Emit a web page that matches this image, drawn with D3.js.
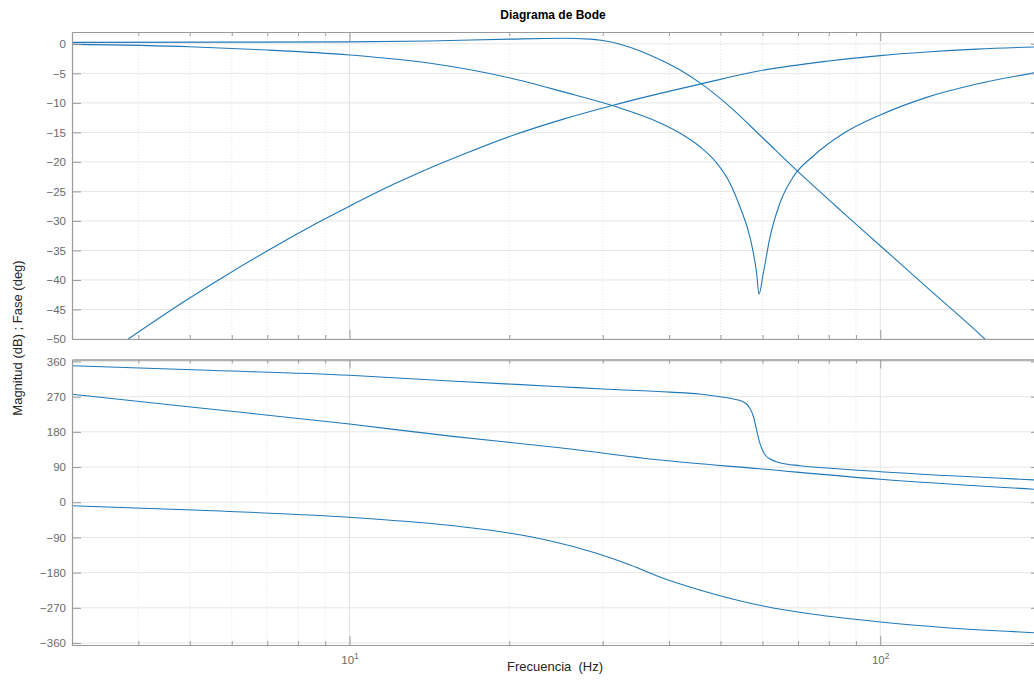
<!DOCTYPE html>
<html>
<head>
<meta charset="utf-8">
<script src="https://cdn.jsdelivr.net/npm/d3@7"></script>
<style>
  html, body { margin: 0; padding: 0; background: #fff; }
  svg { display: block; font-family: "Liberation Sans", Arial, Helvetica, sans-serif; }
</style>
</head>
<body>
<svg id="chart" width="1034" height="682"></svg>
<script>
// ---------- data ----------
const titleText = "Diagrama de Bode";
const xLabelText = "Frecuencia  (Hz)";
const yLabelText = "Magnitud (dB) ; Fase (deg)";

const magTicks = [-50, -45, -40, -35, -30, -25, -20, -15, -10, -5, 0];
const phaseTicks = [-360, -270, -180, -90, 0, 90, 180, 270, 360];
const majorFreqTicks = [10, 100];
const majorFreqExp = ["1", "2"];
const minorFreqTicks = [4, 5, 6, 7, 8, 9, 20, 30, 40, 50, 60, 70, 80, 90];

// Magnitude curves (Hz, dB)
const freqA = [3, 6, 10, 14.2, 20.1, 25.2, 28.4, 30, 32.7, 35.3, 38.5, 41.9, 46.4, 52, 59.3, 70.1, 84, 100, 122.3, 155.3, 160];
const magA  = [0.25, 0.28, 0.32, 0.48, 0.8, 0.93, 0.8, 0.55, -0.2, -1.2, -2.7, -4.4, -7.0, -10.6, -15.45, -21.7, -28.14, -34.2, -41.2, -49.5, -50.6];

const freqB = [3, 5, 7, 10, 14.2, 20.1, 25.2, 31.4, 38.5, 41.9, 45.7, 49.2, 52.1, 54.4, 56.8, 58.5, 59.1, 60.2, 62.0, 64.7, 68.6, 74.8, 85.2, 100, 122.3, 152, 200];
const magB  = [-0.1, -0.5, -1.05, -1.9, -3.3, -5.8, -8.1, -10.5, -13.4, -15.1, -17.4, -20.2, -23.6, -27.6, -32.7, -38.9, -42.4, -38.9, -32.7, -27.0, -22.5, -19.0, -15.2, -12.06, -9.07, -6.81, -4.75];

const freqC = [3.83, 4.93, 5.87, 7.18, 8.92, 10, 12.1, 13.2, 16.3, 20.4, 25.2, 31.4, 38.5, 46.4, 59.3, 79.3, 100, 122.3, 152, 200];
const magC  = [-50, -43.4, -39.15, -34.5, -29.8, -27.5, -23.8, -22.25, -18.8, -15.45, -12.8, -10.4, -8.4, -6.7, -4.57, -2.95, -2.0, -1.4, -0.9, -0.5];

// Phase curves (Hz, deg)
const freqP1 = [3, 5.23, 10, 15.5, 24.9, 30.1, 40.2, 45.7, 49.9, 52.9, 54.8, 56.0, 56.8, 57.7, 58.5, 59.2, 59.8, 60.7, 62.0, 64.7, 70.6, 80.4, 100, 200];
const phaseP1 = [349, 338, 324.6, 310, 295.5, 289.6, 281.5, 276.8, 269.9, 264.0, 258.9, 251.2, 240.2, 218.7, 184.7, 154.8, 137.9, 120.8, 110.6, 101.1, 93.5, 86.8, 78.1, 56.5];

const freqP2 = [3, 5.23, 10, 15.5, 24.9, 38.5, 59.3, 100, 200];
const phaseP2 = [276, 241, 200, 169, 139.5, 108, 85.5, 58.7, 32.5];

const freqP3 = [3, 5.23, 10, 15.2, 20.1, 23.5, 29.2, 33.8, 39.0, 45.7, 49.9, 60.2, 74.8, 100, 133.4, 200];
const phaseP3 = [-8.8, -20.6, -38.5, -58.2, -79.4, -96.5, -130.5, -160.4, -194.4, -224.4, -238.9, -265.3, -286.5, -306.2, -320.8, -334.3];

// ---------- layout ----------
const svg = d3.select("#chart");
svg.append("rect").attr("width", 1034).attr("height", 682).attr("fill", "#fff");

const left = 72, right = 1040;
const x = d3.scaleLog().domain([3, 200]).range([left, right]);
const yMag = d3.scaleLinear().domain([-50, 2]).range([339, 32]);
const yPh = d3.scaleLinear().domain([-365, 365]).range([645, 359.5]);

const lineColor = "#1f78b8";
const axisColor = "#9a9a9a";
const tickTextColor = "#6a6a6a";

function zip(fs, vs) { return fs.map((f, i) => [f, vs[i]]); }

function drawPanel(y, ticks, series, id, showXLabels) {
  const [y0, y1] = y.range(); // bottom, top
  const g = svg.append("g");

  // grid: minor vertical (dotted)
  g.selectAll(null).data(minorFreqTicks).enter().append("line")
    .attr("x1", d => x(d)).attr("x2", d => x(d))
    .attr("y1", y1).attr("y2", y0)
    .attr("stroke", "#e3e3e3").attr("stroke-width", 1)
    .attr("stroke-dasharray", "1,2");
  // grid: major vertical
  g.selectAll(null).data(majorFreqTicks).enter().append("line")
    .attr("x1", d => x(d)).attr("x2", d => x(d))
    .attr("y1", y1).attr("y2", y0)
    .attr("stroke", "#e2e2e2").attr("stroke-width", 1);
  // grid: horizontal
  g.selectAll(null).data(ticks).enter().append("line")
    .attr("x1", left).attr("x2", right)
    .attr("y1", d => y(d)).attr("y2", d => y(d))
    .attr("stroke", "#e6e6e6").attr("stroke-width", 1);

  // clip
  svg.append("clipPath").attr("id", id).append("rect")
    .attr("x", left).attr("y", y1).attr("width", right - left).attr("height", y0 - y1);

  const line = d3.line().x(d => x(d[0])).y(d => y(d[1])).curve(d3.curveMonotoneX);
  const lg = svg.append("g").attr("clip-path", `url(#${id})`);
  series.forEach(s => {
    lg.append("path").datum(s).attr("d", line)
      .attr("fill", "none").attr("stroke", lineColor).attr("stroke-width", 1.1);
  });

  // axes
  const ax = svg.append("g");
  const leftAxis = ax.append("g").attr("transform", `translate(${left},0)`)
    .call(d3.axisLeft(y).tickValues(ticks).tickSizeInner(-9).tickSizeOuter(0).tickPadding(6).tickFormat(d3.format("d")));
  ax.append("g").attr("transform", `translate(${right},0)`)
    .call(d3.axisRight(y).tickValues(ticks).tickSizeInner(-9).tickSizeOuter(0).tickFormat(""));
  const bottomMajor = ax.append("g").attr("transform", `translate(0,${y0})`)
    .call(d3.axisBottom(x).tickValues(majorFreqTicks).tickSizeInner(-9).tickSizeOuter(0).tickPadding(11).tickFormat(""));
  ax.append("g").attr("transform", `translate(0,${y0})`)
    .call(d3.axisBottom(x).tickValues(minorFreqTicks).tickSizeInner(-4).tickSizeOuter(0).tickFormat(""));
  ax.append("g").attr("transform", `translate(0,${y1})`)
    .call(d3.axisTop(x).tickValues(majorFreqTicks).tickSizeInner(-9).tickSizeOuter(0).tickFormat(""));
  ax.append("g").attr("transform", `translate(0,${y1})`)
    .call(d3.axisTop(x).tickValues(minorFreqTicks).tickSizeInner(-4).tickSizeOuter(0).tickFormat(""));

  ax.selectAll("path.domain").attr("stroke", axisColor).attr("stroke-width", 1.2);
  ax.selectAll(".tick line").attr("stroke", axisColor);
  leftAxis.selectAll("text").attr("fill", tickTextColor).style("font-size", "11.5px")
    .style("font-family", "'Liberation Sans', Arial, sans-serif");

  if (showXLabels) {
    bottomMajor.selectAll(".tick text").each(function (d, i) {
      const t = d3.select(this);
      t.text(null).attr("fill", tickTextColor).style("font-size", "11.5px")
        .style("font-family", "'Liberation Sans', Arial, sans-serif");
      t.append("tspan").text("10");
      t.append("tspan").attr("dy", "-0.55em").style("font-size", "8.5px").text(majorFreqExp[i]);
    });
  }
}

drawPanel(yMag, magTicks, [zip(freqA, magA), zip(freqB, magB), zip(freqC, magC)], "clipMag", false);
drawPanel(yPh, phaseTicks, [zip(freqP1, phaseP1), zip(freqP2, phaseP2), zip(freqP3, phaseP3)], "clipPh", true);

// title and labels
svg.append("text").attr("x", 553).attr("y", 19).attr("text-anchor", "middle")
  .style("font-size", "12px").style("font-weight", "bold").attr("fill", "#000").text(titleText);
svg.append("text").attr("x", 555).attr("y", 671).attr("text-anchor", "middle")
  .style("font-size", "13px").style("white-space", "pre").attr("fill", "#262626").text(xLabelText);
svg.append("text").attr("transform", "translate(22,338) rotate(-90)").attr("text-anchor", "middle")
  .style("font-size", "13px").attr("fill", "#262626").text(yLabelText);
</script>
</body>
</html>
